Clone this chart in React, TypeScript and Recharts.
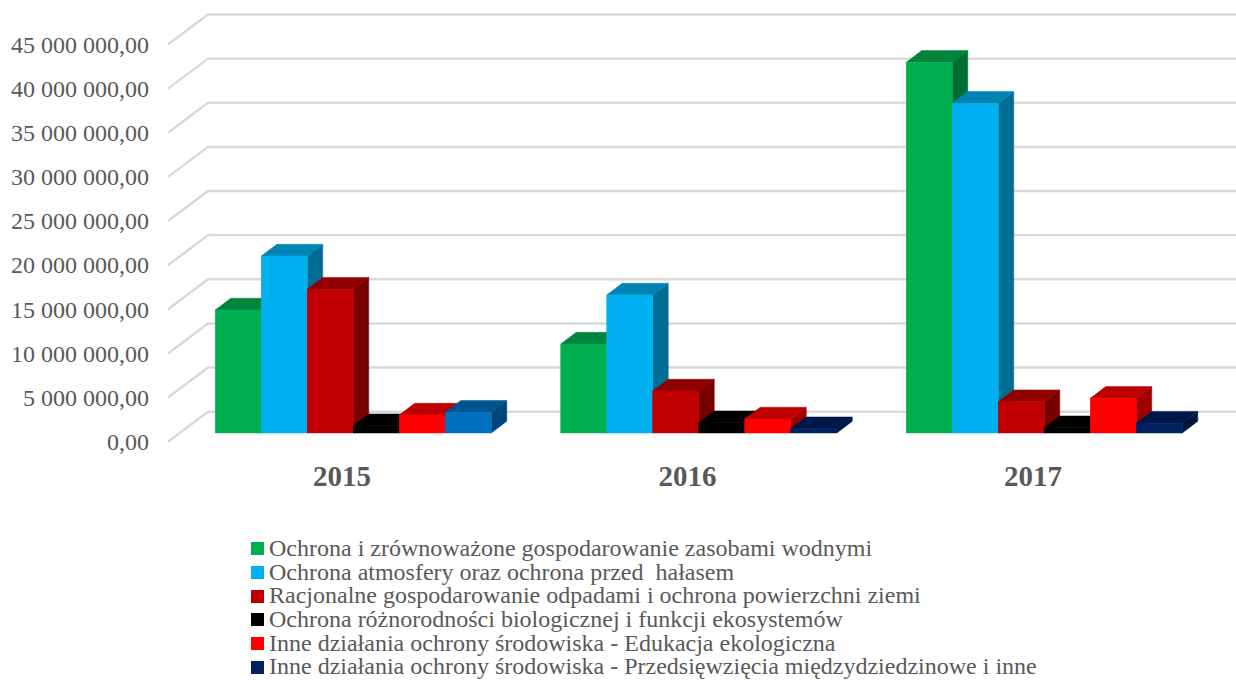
import { BarChart, Bar, XAxis, YAxis, CartesianGrid, Legend } from "recharts";

const years = ["2015", "2016", "2017"];
const yTicks = [0, 5000000, 10000000, 15000000, 20000000, 25000000, 30000000, 35000000, 40000000, 45000000];

const water = [13940000, 10080000, 42000000];
const air = [20050000, 15640000, 37360000];
const waste = [16300000, 4760000, 3550000];
const biodiversity = [830000, 1170000, 600000];
const education = [2040000, 1590000, 3930000];
const other = [2350000, 490000, 1100000];

const seriesNames = [
  "Ochrona i zrównoważone gospodarowanie zasobami wodnymi",
  "Ochrona atmosfery oraz ochrona przed  hałasem",
  "Racjonalne gospodarowanie odpadami i ochrona powierzchni ziemi",
  "Ochrona różnorodności biologicznej i funkcji ekosystemów",
  "Inne działania ochrony środowiska - Edukacja ekologiczna",
  "Inne działania ochrony środowiska - Przedsięwzięcia międzydziedzinowe i inne",
];
const seriesColors = ["#00B050", "#00B0F0", "#C00000", "#000000", "#FF0000", "#002060"];
const otherColors = ["#0070C0", "#002060", "#002060"];

const chartData = years.map((year, i) => ({
  year,
  water: water[i],
  air: air[i],
  waste: waste[i],
  biodiversity: biodiversity[i],
  education: education[i],
  other: other[i],
}));
const seriesKeys = ["water", "air", "waste", "biodiversity", "education", "other"];

const DEPTH_X = 15.5;
const DEPTH_Y = 11.7;
const TEXT = "#595959";
const FONT = '"Liberation Serif", "Times New Roman", serif';

const shade = (hex: string, k: number) => {
  const n = parseInt(hex.slice(1), 16);
  const r = Math.round(((n >> 16) & 255) * k);
  const g = Math.round(((n >> 8) & 255) * k);
  const b = Math.round((n & 255) * k);
  return `rgb(${r},${g},${b})`;
};

const formatTick = (v: number) =>
  String(v).replace(/\B(?=(\d{3})+$)/g, " ") + ",00";

const Bar3D = (props: any) => {
  const { x, y, width, height, fill, index, dataKey } = props;
  const color = dataKey === "other" ? otherColors[index] : fill;
  const base = y + height;
  const right = x + width;
  const sideColor = shade(color, 0.62);
  const topColor = shade(color, 0.75);
  return (
    <g>
      <polygon
        points={`${right},${y} ${right + DEPTH_X},${y - DEPTH_Y} ${right + DEPTH_X},${base - DEPTH_Y} ${right},${base}`}
        fill={sideColor}
        stroke={sideColor}
        strokeWidth={0.5}
      />
      <polygon
        points={`${x},${y} ${x + DEPTH_X},${y - DEPTH_Y} ${right + DEPTH_X},${y - DEPTH_Y} ${right},${y}`}
        fill={topColor}
        stroke={topColor}
        strokeWidth={0.5}
      />
      <rect x={x} y={y} width={width} height={height} fill={color} stroke={color} strokeWidth={0.5} />
    </g>
  );
};

const gridLine = (props: any) => {
  const { y1, x2, key } = props;
  return (
    <polyline
      key={key}
      points={`168,${y1 + 8.7} 208,${y1 - 21.3} ${x2 + 20},${y1 - 21.3}`}
      fill="none"
      stroke="#D9D9D9"
      strokeWidth={2.4}
    />
  );
};

const YTick = ({ y, payload }: any) => (
  <text x={149} y={y + 17} textAnchor="end" fontFamily={FONT} fontSize={24} fill={TEXT}>
    {formatTick(payload.value)}
  </text>
);

const XTick = ({ x, payload }: any) => (
  <text x={x - 11} y={486} textAnchor="middle" fontFamily={FONT} fontSize={29} fontWeight="bold" fill={TEXT}>
    {payload.value}
  </text>
);

const LegendList = ({ payload }: any) => (
  <div style={{ fontFamily: FONT, fontSize: 24, color: TEXT, lineHeight: "23.7px", whiteSpace: "pre" }}>
    {payload.map((item: any) => (
      <div key={item.value} style={{ display: "flex", alignItems: "center", height: 23.7 }}>
        <span style={{ width: 13, height: 13, background: item.color, marginRight: 5, flex: "none" }} />
        {item.value}
      </div>
    ))}
  </div>
);

export default function App() {
  return (
    <div style={{ position: "absolute", left: 0, top: 0, width: 1236, height: 680, background: "#fff" }}>
      <BarChart
        width={1236}
        height={680}
        data={chartData}
        barSize={46}
        barGap={0}
        margin={{ top: 35.8, right: 19.25, bottom: 0, left: 0 }}
      >
        <CartesianGrid vertical={false} horizontal={gridLine} />
        <XAxis dataKey="year" height={102} axisLine={false} tickLine={false} tick={XTick} />
        <YAxis width={180.25} domain={[0, 45000000]} ticks={yTicks} axisLine={false} tickLine={false} tick={YTick} />
        <Legend
          verticalAlign="bottom"
          height={145}
          content={LegendList}
          itemSorter={null}
          wrapperStyle={{ left: 251, top: 537, width: 980 }}
        />
        {seriesKeys.map((key, i) => (
          <Bar
            key={key}
            dataKey={key}
            name={seriesNames[i]}
            fill={seriesColors[i]}
            shape={Bar3D}
            isAnimationActive={false}
          />
        ))}
      </BarChart>
    </div>
  );
}
